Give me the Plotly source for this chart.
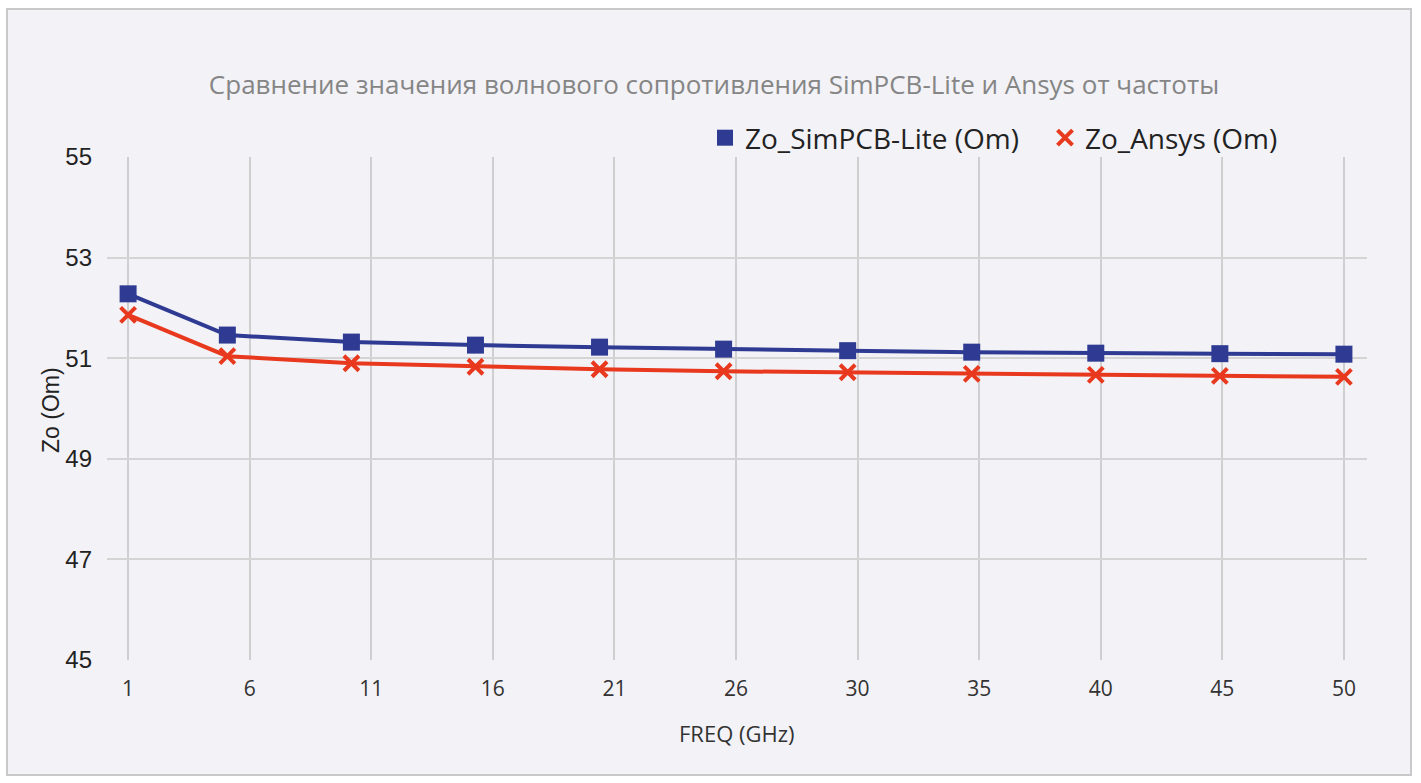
import plotly.graph_objects as go
import numpy as np

freq = [1, 5, 10, 15, 20, 25, 30, 35, 40, 45, 50]
zo_simpcb = [52.28, 51.46, 51.32, 51.26, 51.22, 51.18, 51.15, 51.12, 51.10, 51.09, 51.08]
zo_ansys = [51.86, 51.04, 50.90, 50.83, 50.78, 50.74, 50.72, 50.69, 50.67, 50.65, 50.63]
x_tick_labels = ["1", "6", "11", "16", "21", "26", "30", "35", "40", "45", "50"]
y_ticks = [45, 47, 49, 51, 53, 55]
series_names = ["Zo_SimPCB-Lite (Om)", "Zo_Ansys (Om)"]

title_text = "Сравнение значения волнового сопротивления SimPCB-Lite и Ansys от частоты"

W, H = 1421, 783
L, R, T, B = 107, 54, 157, 123
pw, ph = W - L - R, H - T - B

def px_x(p):
    return (p - L) / pw

def px_y(p):
    return (H - B - p) / ph

blue = "#2F3B93"
red = "#E8391E"

fig = go.Figure()
fig.add_trace(go.Scatter(
    x=freq, y=zo_simpcb, mode="lines+markers", name=series_names[0], showlegend=False,
    line=dict(color=blue, width=4),
    marker=dict(symbol="square", size=17, color=blue),
))
fig.add_trace(go.Scatter(
    x=freq, y=zo_ansys, mode="lines+markers", name=series_names[1], showlegend=False,
    line=dict(color=red, width=4),
    marker=dict(symbol="x-thin", size=15, color=red, line=dict(color=red, width=4)),
))
# legend-only entries (marker only, like the reference legend)
fig.add_trace(go.Scatter(
    x=[None], y=[None], mode="markers", name=series_names[0],
    marker=dict(symbol="square", size=18, color=blue),
))
fig.add_trace(go.Scatter(
    x=[None], y=[None], mode="markers", name=series_names[1],
    marker=dict(symbol="x-thin", size=15, color=red, line=dict(color=red, width=4)),
))

tickvals = list(np.linspace(freq[0], freq[-1], len(x_tick_labels)))

fig.update_layout(
    width=W, height=H,
    margin=dict(l=L, r=R, t=T, b=B),
    paper_bgcolor="white",
    plot_bgcolor="rgba(0,0,0,0)",
    font=dict(family="Open Sans", color="#333333"),
    title=dict(text=title_text, x=714 / W, xanchor="center", xref="container",
               y=1 - 85 / H, yanchor="middle", yref="container",
               font=dict(size=26, color="#858585", family="Open Sans")),
    showlegend=True,
    legend=dict(orientation="h", x=px_x(705), xanchor="left", y=px_y(138), yanchor="middle",
                font=dict(size=28, color="#222222", family="Open Sans"),
                bgcolor="rgba(0,0,0,0)", itemwidth=30, entrywidth=295, entrywidthmode="pixels"),
    xaxis=dict(range=[0.15, 50.93], tickvals=tickvals, ticktext=x_tick_labels,
               showgrid=True, gridcolor="#cfcfcf", gridwidth=1.5,
               zeroline=False, showline=False, ticks="",
               ticklabelstandoff=14,
               tickfont=dict(size=21, color="#333333", family="Open Sans")),
    yaxis=dict(range=[45, 55], tickvals=y_ticks,
               showgrid=True, gridcolor="#d4d4d4", gridwidth=2,
               zeroline=False, showline=False, ticks="",
               ticklabelstandoff=14,
               tickfont=dict(size=24, color="#222222", family="Liberation Sans")),
    shapes=[dict(type="rect", xref="paper", yref="paper",
                 x0=px_x(7), x1=px_x(1411), y0=px_y(775), y1=px_y(9),
                 fillcolor="#F2F2F7", line=dict(color="#C9C9C9", width=2), layer="below")],
    annotations=[
        dict(text="FREQ (GHz)", xref="paper", yref="paper", x=px_x(737), y=px_y(733),
             showarrow=False, xanchor="center", yanchor="middle",
             font=dict(size=22, color="#333333", family="Open Sans")),
        dict(text="Zo (Om)", xref="paper", yref="paper", x=px_x(51), y=px_y(410),
             showarrow=False, xanchor="center", yanchor="middle", textangle=-90,
             font=dict(size=23, color="#222222", family="Liberation Sans")),
    ],
)

fig.write_html("out.html")
